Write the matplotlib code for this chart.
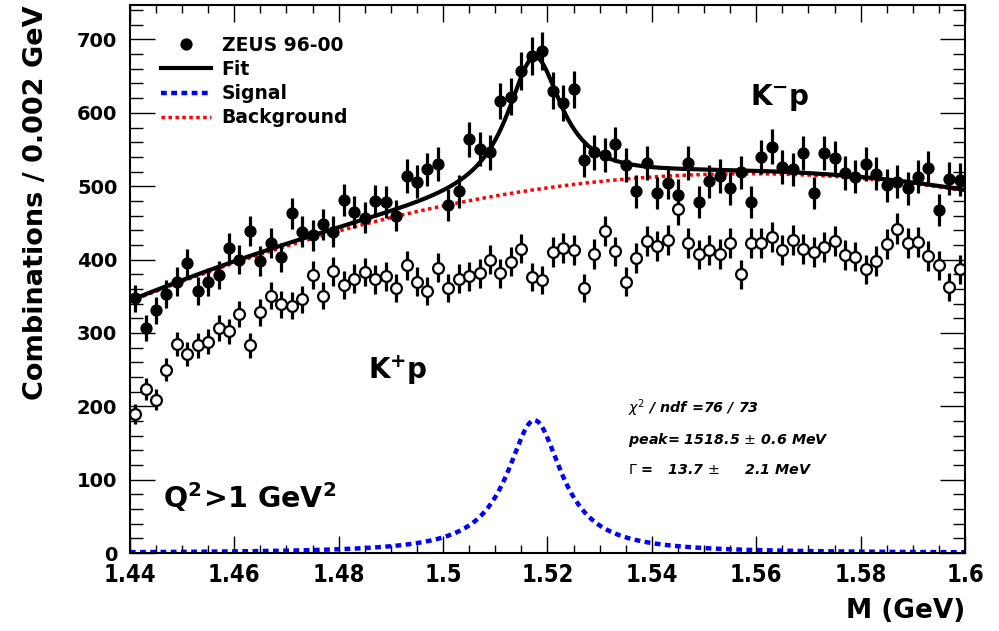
import numpy as np
import matplotlib
matplotlib.use("Agg")
import matplotlib.pyplot as plt
from matplotlib.lines import Line2D
from matplotlib.ticker import MultipleLocator, FormatStrFormatter

plt.rcParams['font.family'] = ['DejaVu Sans']
plt.rcParams['mathtext.fontset'] = 'dejavusans'

# bin centres, 0.002 GeV bins from 1.44 to 1.60
mass = np.linspace(1.441, 1.599, 80)

# K-p combinations (filled points)
kminus = [347, 307, 331, 353, 370, 395, 357, 369, 379, 416,
          400, 439, 398, 423, 403, 463, 438, 433, 448, 438,
          481, 465, 457, 480, 479, 460, 514, 506, 523, 530,
          474, 493, 564, 551, 546, 616, 622, 657, 678, 684,
          630, 613, 632, 536, 546, 542, 557, 529, 493, 532,
          491, 505, 488, 532, 478, 507, 514, 497, 519, 479,
          540, 554, 526, 523, 545, 491, 545, 538, 518, 513,
          530, 517, 501, 506, 497, 513, 525, 468, 510, 509]

# K+p combinations (open points)
kplus = [190, 224, 209, 250, 285, 271, 283, 288, 307, 302,
         326, 283, 328, 351, 339, 337, 346, 379, 351, 384,
         365, 374, 383, 373, 377, 361, 392, 370, 357, 389,
         361, 374, 377, 381, 400, 381, 397, 415, 376, 372,
         410, 416, 413, 361, 408, 439, 411, 370, 402, 425,
         419, 427, 469, 423, 407, 413, 408, 423, 380, 422,
         423, 431, 413, 427, 414, 410, 417, 425, 406, 404,
         387, 398, 421, 442, 423, 424, 405, 392, 362, 387]

# background curve
bg_mass = [1.44, 1.46, 1.48, 1.50, 1.52, 1.54, 1.56, 1.58, 1.60]
bg_vals = [343, 395, 440, 471, 500, 511, 518, 510, 494]

# Breit-Wigner signal as drawn
sig_peak = 1.5175
sig_width = 0.0128
sig_amp = 181

kminus = np.array(kminus, dtype=float)
kplus = np.array(kplus, dtype=float)

m = np.linspace(1.44, 1.60, 500)
bg_coef = np.polyfit(bg_mass, bg_vals, 3)
background = np.polyval(bg_coef, m)
hw = sig_width / 2
signal = sig_amp * hw**2 / ((m - sig_peak)**2 + hw**2)
fit = background + signal

fig = plt.figure(figsize=(9.99, 6.31), dpi=100)
ax = fig.add_axes([0.130, 0.1236, 0.836, 0.8685])

ax.plot(m, background, color='red', lw=2.5, linestyle=(0, (1.0, 1.0)))
ax.plot(m, signal, color='blue', lw=3.2, linestyle=(0, (1.3, 1.0)))
ax.plot(m, fit, color='black', lw=3)

ax.errorbar(mass, kplus, yerr=np.sqrt(kplus), fmt='o', ms=7.8, mfc='white',
            mec='black', mew=1.6, ecolor='black', elinewidth=2.3, capsize=0)
ax.errorbar(mass, kminus, yerr=np.sqrt(kminus), fmt='o', ms=7.8, mfc='black',
            mec='black', ecolor='black', elinewidth=2.3, capsize=0)

ax.set_xlim(1.44, 1.60)
ax.set_ylim(0, 747)
ax.xaxis.set_major_locator(MultipleLocator(0.02))
ax.xaxis.set_minor_locator(MultipleLocator(0.005))
ax.yaxis.set_major_locator(MultipleLocator(100))
ax.yaxis.set_minor_locator(MultipleLocator(20))
ax.xaxis.set_major_formatter(FormatStrFormatter('%g'))
ax.tick_params(axis='both', which='both', direction='in', top=True, right=True,
               width=1.0)
ax.tick_params(axis='x', which='major', length=12, pad=7)
ax.tick_params(axis='x', which='minor', length=6)
ax.tick_params(axis='y', which='major', length=18, pad=9)
ax.tick_params(axis='y', which='minor', length=9)
for lab in ax.get_yticklabels():
    lab.set_fontweight('bold')
    lab.set_fontsize(14)
for lab in ax.get_xticklabels():
    lab.set_fontweight('bold')
    lab.set_fontsize(17)
    lab.set_fontstretch('condensed')
for sp in ax.spines.values():
    sp.set_linewidth(1.5)

ax.set_ylabel('Combinations / 0.002 GeV', fontsize=19.5, fontweight='bold',
              loc='top', labelpad=20)
ax.set_xlabel('M (GeV)', fontsize=19, fontweight='bold', loc='right',
              labelpad=8)

handles = [Line2D([], [], marker='o', ms=7.8, color='black', ls='none'),
           Line2D([], [], color='black', lw=3),
           Line2D([], [], color='blue', lw=3.2, ls=(0, (1.3, 1.0))),
           Line2D([], [], color='red', lw=2.5, ls=(0, (1.0, 1.0)))]
labels = ['ZEUS 96-00', 'Fit', 'Signal', 'Background']
ax.legend(handles, labels, loc='upper left', bbox_to_anchor=(0.037, 0.944),
          frameon=False, borderpad=0, borderaxespad=0, handlelength=2.7,
          handletextpad=0.55, labelspacing=0.28,
          prop={'weight': 'bold', 'size': 13.5})

ax.text(1.5645, 621, r'$\mathbf{K^{-}p}$', fontsize=20, ha='center', va='center')
ax.text(1.4914, 249, r'$\mathbf{K^{+}p}$', fontsize=20, ha='center', va='center')
ax.text(1.4463, 76, r'$\mathbf{Q^{2}\!>\!1\ GeV^{2}}$', fontsize=20.5,
        ha='left', va='center')

stat = dict(fontsize=10.3, fontweight='bold', style='italic', ha='left', va='center')
ax.text(1.5354, 197, r'$\chi^{2}$ / ndf =76 / 73', **stat)
ax.text(1.5354, 154, 'peak= 1518.5 $\\pm$ 0.6 MeV', **stat)
ax.text(1.5354, 113, '$\\Gamma$ =   13.7 $\\pm$     2.1 MeV', **stat)

fig.savefig('out.png', dpi=100)
